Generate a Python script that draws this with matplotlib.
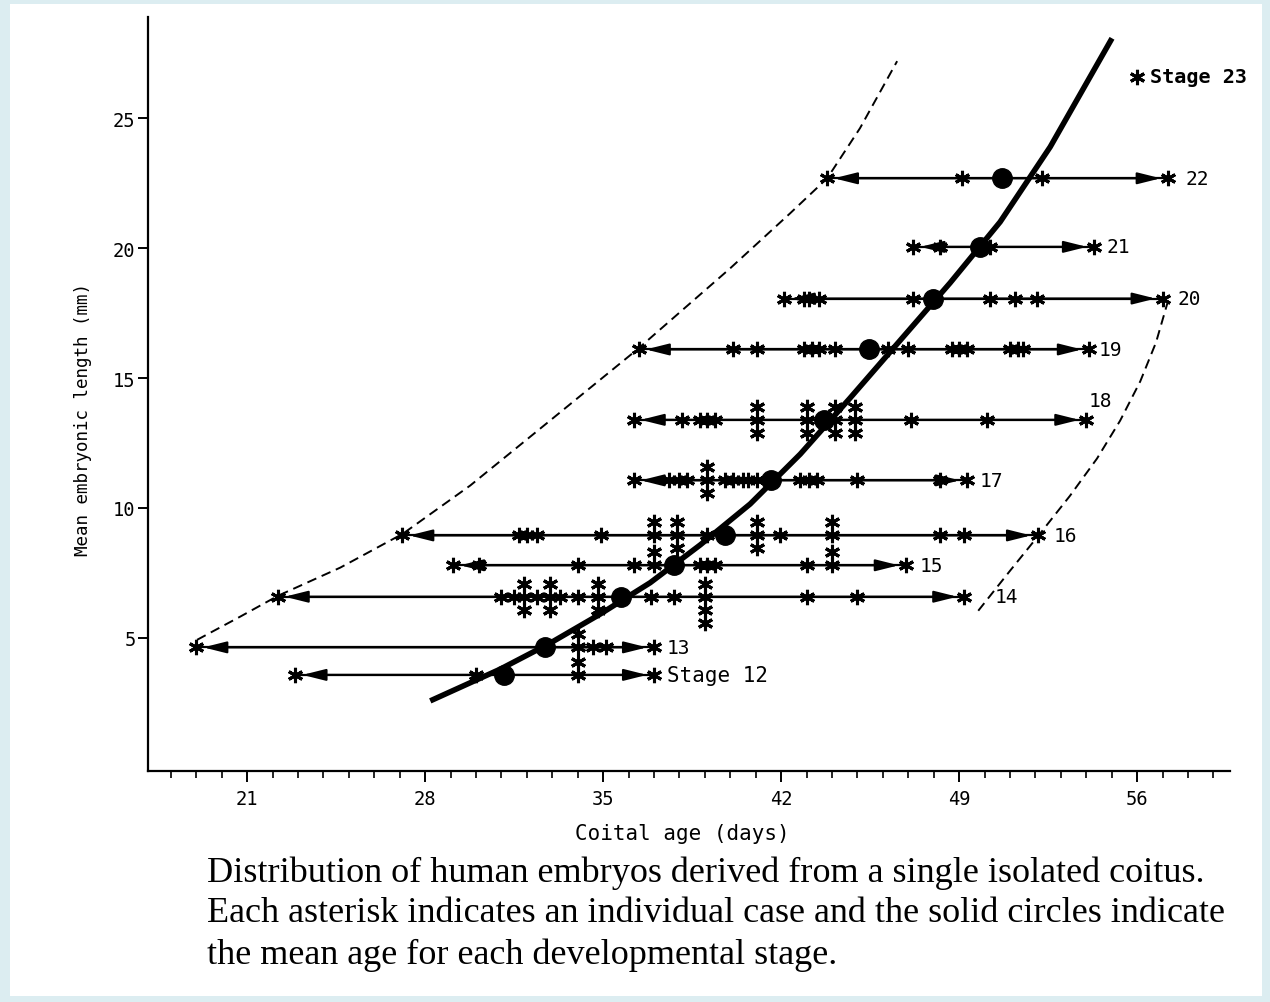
"""Distribution of human embryos derived from a single isolated coitus."""
import matplotlib

matplotlib.use("Agg")
import matplotlib.pyplot as plt
from matplotlib.patches import Rectangle

# ---- data ---------------------------------------------------------------
STAGES = [12, 13, 14, 15, 16, 17, 18, 19, 20, 21, 22]
STAGE_LENGTH = [3.57, 4.63, 6.58, 7.79, 8.94, 11.06, 13.39, 16.10, 18.06, 20.05, 22.69]
MEAN_AGE = [31.1, 32.7, 35.7, 37.8, 39.8, 41.6, 43.7, 45.45, 47.98, 49.8, 50.7]

# individual cases (coital age, days); repeated values are stacked vertically
CASES_12 = [22.9, 30.0, 34.0, 34.0, 37.0]
CASES_13 = [19.0, 34.0, 34.0, 34.6, 35.1, 37.0]
CASES_14 = [22.2, 31.0, 31.5, 31.9, 31.9, 31.9, 32.4, 32.9, 32.9, 32.9, 33.3,
            34.0, 34.8, 34.8, 34.8, 36.9, 37.8, 39.0, 39.0, 39.0, 39.0,
            43.0, 45.0, 49.2]
CASES_15 = [29.1, 30.1, 34.0, 36.2, 37.0, 37.0, 38.8, 39.1, 39.4, 43.0,
            44.0, 44.0, 46.9]
CASES_16 = [27.1, 31.7, 32.0, 32.4, 34.9, 37.0, 37.0, 37.9, 37.9, 37.9, 39.1,
            41.05, 41.05, 41.05, 41.95, 44.0, 44.0, 48.25, 49.2, 52.1]
CASES_17 = [36.2, 37.6, 38.0, 38.3, 39.1, 39.1, 39.1, 39.8, 40.1, 40.5, 40.7,
            41.05, 42.75, 43.1, 43.4, 45.0, 48.25, 49.3]
CASES_18 = [36.2, 38.1, 38.8, 39.1, 39.4, 41.05, 41.05, 41.05, 43.0, 43.0, 43.0,
            44.1, 44.1, 44.1, 44.9, 44.9, 44.9, 47.1, 50.1, 54.0]
CASES_19 = [36.4, 40.1, 41.05, 42.9, 43.2, 43.5, 44.1, 46.2, 47.0, 48.7, 49.0,
            49.3, 51.0, 51.3, 51.5, 54.1]
CASES_20 = [42.1, 42.9, 43.1, 43.5, 47.2, 50.2, 51.2, 52.05, 57.0]
CASES_21 = [47.2, 48.25, 50.2, 54.3]
CASES_22 = [43.8, 49.1, 52.25, 57.2]
CASES = [CASES_12, CASES_13, CASES_14, CASES_15, CASES_16, CASES_17,
         CASES_18, CASES_19, CASES_20, CASES_21, CASES_22]

STAGE_23 = (56.0, 26.6)

# fitted mean curve
CURVE_AGE = [28.20, 30.95, 32.91, 34.88, 36.85, 38.81, 40.78, 42.75, 44.71,
             46.68, 48.64, 50.61, 52.58, 55.01]
CURVE_LEN = [2.57, 3.79, 4.79, 5.91, 7.12, 8.57, 10.15, 12.07, 14.23,
             16.45, 18.66, 21.01, 23.90, 28.08]

# dashed envelopes
LEFT_AGE = [19.03, 20.72, 22.22, 24.66, 27.13, 29.77, 32.52, 36.34, 39.99,
            42.35, 43.81, 45.10, 46.56]
LEFT_LEN = [4.92, 5.81, 6.62, 7.70, 9.01, 10.86, 13.05, 16.10, 19.22,
            21.34, 22.69, 24.62, 27.20]
RIGHT_AGE = [49.75, 51.00, 52.18, 53.36, 54.42, 55.33, 56.12, 56.74, 57.22]
RIGHT_LEN = [6.04, 7.58, 9.01, 10.47, 11.90, 13.36, 14.87, 16.37, 17.99]

X_TICKS = [21, 28, 35, 42, 49, 56]
Y_TICKS = [5, 10, 15, 20, 25]

CAPTION = [
    "Distribution of human embryos derived from a single isolated coitus.",
    "Each asterisk indicates an individual case and the solid circles indicate",
    "the mean age for each developmental stage.",
]

# ---- styling ------------------------------------------------------------
MONO = "DejaVu Sans Mono"
AST = (6, 2, 0)
STACK = [0, 1, -1, -2, 2, 3]
STACK_STEP = 0.5
# label offsets (points) from the right end of each range
LABEL_OFF = {12: (9, 0), 13: (9, 0), 14: (22, 0), 15: (10, 0), 16: (11, 0),
             17: (9, 0), 18: (2, 14), 19: (7, 0), 20: (11, 0), 21: (9, 0),
             22: (13, 0)}

fig = plt.figure(figsize=(12.70, 10.03), dpi=100, facecolor="#dcedf1")
fig.add_artist(Rectangle((10 / 1270, 6 / 1003), 1252 / 1270, 992 / 1003,
                         transform=fig.transFigure, facecolor="white",
                         edgecolor="none", zorder=0))
ax = fig.add_axes([148 / 1270, 1 - 772 / 1003, 1082 / 1270, 754 / 1003])
ax.set_facecolor("none")
ax.set_xlim(17.1, 59.65)
ax.set_ylim(-0.13, 28.9)
for side in ("top", "right"):
    ax.spines[side].set_visible(False)
for side in ("left", "bottom"):
    ax.spines[side].set_linewidth(1.6)

ax.set_xticks(X_TICKS)
ax.set_xticks(range(18, 60), minor=True)
ax.set_yticks(Y_TICKS)
ax.tick_params(axis="x", which="major", length=8, width=1.4, labelsize=13.5, pad=5)
ax.tick_params(axis="x", which="minor", length=5, width=1.2)
ax.tick_params(axis="y", which="major", length=7, width=1.4, labelsize=13.5, pad=2)
for lab in ax.get_xticklabels() + ax.get_yticklabels():
    lab.set_family(MONO)

ax.set_xlabel("Coital age (days)", family=MONO, fontsize=15)
ax.xaxis.set_label_coords(0.494, -0.069)
ax.set_ylabel("Mean embryonic length (mm)", family=MONO, fontsize=12.6)
ax.yaxis.set_label_coords(-0.052, 0.467)

# envelopes
ax.plot(LEFT_AGE, LEFT_LEN, ls=(0, (5, 3)), color="black", lw=1.4, zorder=1)
ax.plot(RIGHT_AGE, RIGHT_LEN, ls=(0, (5, 3)), color="black", lw=1.4, zorder=1)

# ranges with individual cases
for stage, y, cases in zip(STAGES, STAGE_LENGTH, CASES):
    lo, hi = min(cases), max(cases)
    ax.plot([lo, hi], [y, y], color="black", lw=1.6, zorder=2)
    ax.annotate("", xy=(lo, y), xytext=(hi, y), zorder=2,
                arrowprops=dict(arrowstyle="<|-|>,head_length=1.0,head_width=0.25",
                                color="black", lw=1.6, shrinkA=5, shrinkB=5,
                                mutation_scale=14))
    seen = {}
    for d in cases:
        k = seen.get(d, 0)
        seen[d] = k + 1
        ax.plot(d, y + STACK[k] * STACK_STEP, marker=AST, ms=11, mew=2.2,
                color="black", zorder=3)
    dx, dy = LABEL_OFF[stage]
    text = "Stage 12" if stage == 12 else str(stage)
    ax.annotate(text, xy=(hi, y), xytext=(dx, dy), textcoords="offset points",
                va="center", ha="left", family=MONO,
                fontsize=15 if stage == 12 else 14)

ax.plot(*STAGE_23, marker=AST, ms=11, mew=2.2, color="black")
ax.annotate("Stage 23", xy=STAGE_23, xytext=(9, 0), textcoords="offset points",
            va="center", ha="left", family=MONO, fontsize=14.5, fontweight="bold")

# mean curve and stage means
ax.plot(CURVE_AGE, CURVE_LEN, color="black", lw=4, solid_capstyle="butt",
        solid_joinstyle="round", zorder=4)
ax.plot(MEAN_AGE, STAGE_LENGTH, "o", color="black", ms=14, zorder=5)

for i, line in enumerate(CAPTION):
    fig.text(207 / 1270, 1 - (873 + 41 * i) / 1003, line, family="Liberation Serif",
             fontsize=26, va="center", ha="left")

fig.savefig("out.png", dpi=100, facecolor=fig.get_facecolor())
